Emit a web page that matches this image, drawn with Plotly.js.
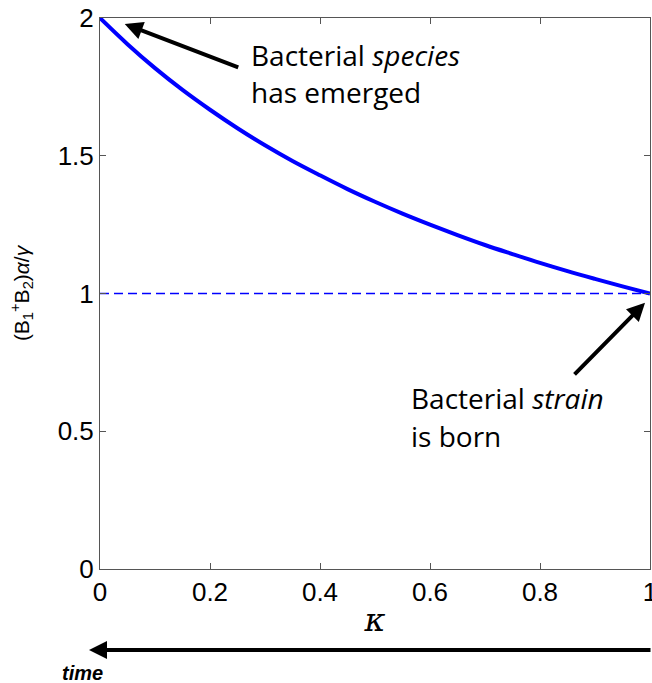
<!DOCTYPE html>
<html>
<head>
<meta charset="utf-8">
<script src="https://cdn.plot.ly/plotly-3.0.1.min.js"></script>
<style>html,body{margin:0;padding:0;background:#fff;}#chart{width:652px;height:683px;}</style>
</head>
<body>
<div id="chart"></div>
<script>
// Data
var kappa = [0, 0.05, 0.1, 0.15, 0.2, 0.25, 0.3, 0.35, 0.4, 0.45, 0.5, 0.55, 0.6, 0.65, 0.7, 0.75, 0.8, 0.85, 0.9, 0.95, 1.0];
var total = [2.000, 1.905, 1.818, 1.739, 1.667, 1.600, 1.538, 1.481, 1.429, 1.379, 1.333, 1.290, 1.250, 1.212, 1.176, 1.143, 1.111, 1.081, 1.053, 1.026, 1.000];
var refX = [0, 1];
var refY = [1, 1];
var xTicks = [0, 0.2, 0.4, 0.6, 0.8, 1];
var xTickLabels = ["0", "0.2", "0.4", "0.6", "0.8", "1"];
var yTicks = [0, 0.5, 1, 1.5, 2];
var yTickLabels = ["0", "0.5", "1", "1.5", "2"];

var traces = [
  {x: refX, y: refY, mode: 'lines', line: {color: '#0000ff', width: 1.5, dash: '9px,5px'}, hoverinfo: 'skip', cliponaxis: false},
  {x: kappa, y: total, mode: 'lines', line: {color: '#0000ff', width: 4, shape: 'spline'}, hoverinfo: 'skip', cliponaxis: false}
];

var annFont = {family: 'Open Sans, sans-serif', size: 28, color: '#000'};
var layout = {
  width: 652, height: 683,
  margin: {l: 100, r: 2, t: 18, b: 114},
  paper_bgcolor: '#fff', plot_bgcolor: '#fff',
  showlegend: false,
  font: {family: 'Liberation Sans, Arial, sans-serif', size: 26, color: '#000'},
  xaxis: {
    range: [0, 1], tickvals: xTicks, ticktext: xTickLabels,
    ticks: 'inside', ticklen: 6, tickcolor: '#555', tickwidth: 1,
    showline: true, linecolor: '#555', linewidth: 1, mirror: 'ticks',
    showgrid: false, zeroline: false, ticklabeloverflow: 'allow',
    tickfont: {size: 26},
    title: {text: '<i>κ</i>', font: {family: 'DejaVu Serif, serif', size: 32}, standoff: 2}
  },
  yaxis: {
    range: [0, 2], tickvals: yTicks, ticktext: yTickLabels,
    ticks: 'inside', ticklen: 6, tickcolor: '#555', tickwidth: 1,
    showline: true, linecolor: '#555', linewidth: 1, mirror: 'ticks',
    showgrid: false, zeroline: false, ticklabeloverflow: 'allow',
    tickfont: {size: 26},
    title: {text: '(B<sub>1</sub><sup>+</sup>B<sub>2</sub>)<i>α</i>/<i>γ</i>', font: {size: 21}, standoff: 22}
  },
  annotations: [
    {x: 0.045, y: 1.978, xref: 'x', yref: 'y', ax: 115, ay: 44, text: '', showarrow: true, arrowhead: 2, arrowsize: 0.9, arrowwidth: 4, arrowcolor: '#000'},
    {x: 0.991, y: 0.966, xref: 'x', yref: 'y', ax: -72, ay: 73, text: '', showarrow: true, arrowhead: 2, arrowsize: 0.9, arrowwidth: 4, arrowcolor: '#000'},
    {x: 0.27, y: 0.932, xref: 'paper', yref: 'paper', xanchor: 'left', yanchor: 'middle', text: 'Bacterial <i>species</i>', showarrow: false, font: annFont},
    {x: 0.27, y: 0.866, xref: 'paper', yref: 'paper', xanchor: 'left', yanchor: 'middle', text: 'has emerged', showarrow: false, font: annFont},
    {x: 0.562, y: 0.310, xref: 'paper', yref: 'paper', xanchor: 'left', yanchor: 'middle', text: 'Bacterial <i>strain</i>', showarrow: false, font: annFont},
    {x: 0.562, y: 0.241, xref: 'paper', yref: 'paper', xanchor: 'left', yanchor: 'middle', text: 'is born', showarrow: false, font: annFont},
    {x: -0.02, y: -0.147, xref: 'paper', yref: 'paper', ax: 563, ay: 0, text: '', showarrow: true, arrowhead: 2, arrowsize: 0.9, arrowwidth: 4, arrowcolor: '#000'},
    {x: -0.031, y: -0.189, xref: 'paper', yref: 'paper', xanchor: 'center', yanchor: 'middle', text: '<b><i>time</i></b>', showarrow: false, font: {family: 'Liberation Sans, Arial, sans-serif', size: 20, color: '#000'}}
  ]
};

Plotly.newPlot('chart', traces, layout, {staticPlot: true, displayModeBar: false});
</script>
</body>
</html>
